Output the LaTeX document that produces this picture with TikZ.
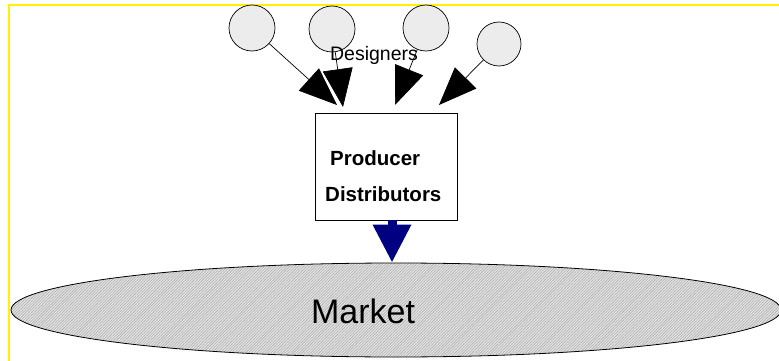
\documentclass[tikz,border=0pt]{standalone}
\usepackage{fontspec}
\setmainfont{Liberation Sans}
\usetikzlibrary{arrows.meta,positioning,shapes.geometric,patterns.meta}
\definecolor{navyblue}{RGB}{0,0,128}

\begin{document}
\begin{tikzpicture}[x=1pt,y=-1pt,
    designer/.style={circle, draw, line width=0.7pt, fill=gray!15, minimum size=46pt, inner sep=0pt},
    feed/.style={-{Triangle[length=38pt,width=30pt]}, line width=0.7pt}]
        \useasboundingbox (0,0) rectangle (779,361);

        % the yellow frame
        \draw[yellow, line width=2pt] (9,361) -- (9,5) -- (779,5);

        % the market
        \node[ellipse, draw, line width=0.8pt, minimum width=770pt, minimum height=94pt,
              preaction={fill=gray!20}, pattern={Lines[angle=45,distance=2pt,line width=0.6pt]},
              pattern color=gray!65] (market) at (396,310) {};
        \node[font=\fontsize{34}{40}\selectfont] (marketlabel) at (363,311) {Market};

        % the producer box
        \node[draw, line width=0.7pt, fill=white, minimum width=142pt, minimum height=107pt] (producer) at (386,166.5) {};
        \node[anchor=base west, inner sep=0pt, font=\bfseries\fontsize{20.5}{24}\selectfont] (producerlabel) at (330,165) {Producer};
        \node[anchor=base west, inner sep=0pt, font=\bfseries\fontsize{20.5}{24}\selectfont] (distributorlabel) at (325,201) {Distributors};

        % A few designers
        \node[designer] (d1) at (252,28) {};
        \node[designer] (d2) at (332,29) {};
        \node[designer] (d3) at (426,28) {};
        \node[designer, minimum size=44pt] (d4) at (499,44) {};

        % And their arrows
        \coordinate (t1) at (337,105);
        \coordinate (t2) at (343,107);
        \coordinate (t3) at (395,105);
        \coordinate (t4) at (439,105);
        \draw[feed] (d1) -- (t1);
        \draw[feed] (d2) -- (t2);
        \draw[feed] (d3) -- (t3);
        \draw[feed] (d4) -- (t4);
        \node[anchor=base, inner sep=0pt, font=\fontsize{19.5}{22}\selectfont] (designerlabel) at (374,61) {Designers};

        % down to the market
        \coordinate (drop) at (392,220);
        \draw[navyblue, line width=9pt, -{Triangle[length=38pt,width=36pt]}] (drop) -- (drop |- market.north);
      \end{tikzpicture}
\end{document}
